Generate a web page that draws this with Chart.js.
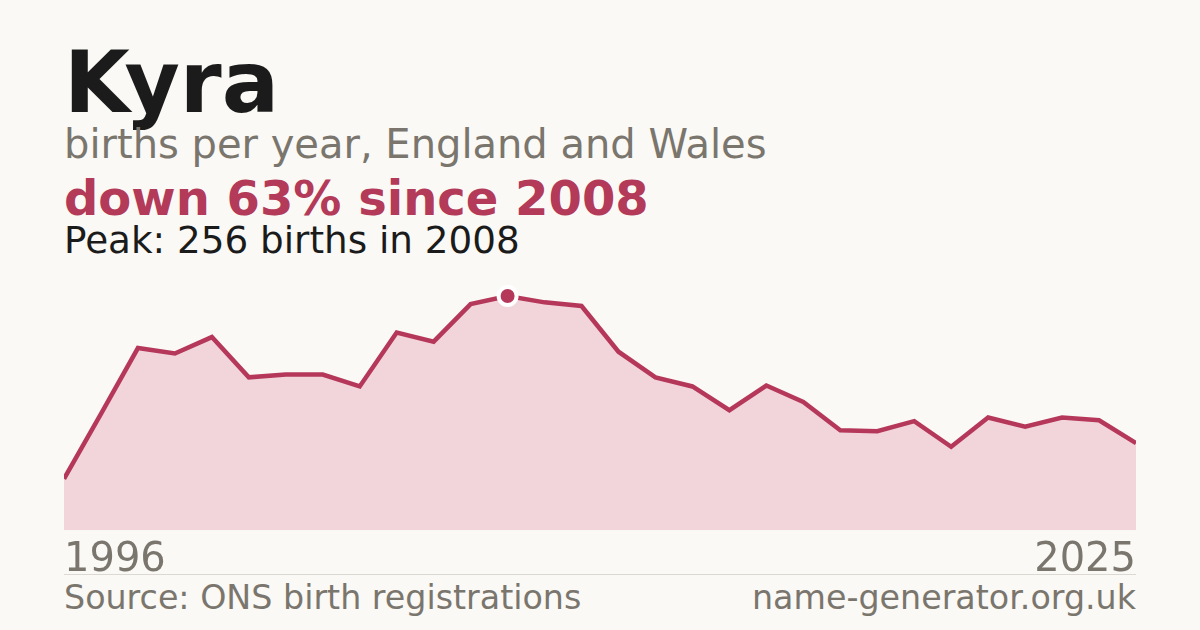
<!DOCTYPE html>
<html>
<head>
<meta charset="utf-8">
<script src="https://cdn.jsdelivr.net/npm/chart.js@4"></script>
<style>
  html, body { margin: 0; padding: 0; }
  body {
    width: 1200px; height: 630px; overflow: hidden;
    background: #faf9f5; position: relative;
    font-family: "DejaVu Sans", sans-serif;
  }
  .t { position: absolute; left: 64px; line-height: 1; white-space: nowrap; }
  .name { top: 40px; font-size: 85px; font-weight: bold; color: #1b1b1b; }
  .sub { top: 124px; font-size: 40px; color: #7a766e; }
  .change { top: 174px; font-size: 48px; font-weight: bold; color: #b33a58; }
  .peak { top: 222px; font-size: 37.3px; color: #1b1b1b; }
  .rule { position: absolute; left: 64px; width: 1072px; top: 574px; height: 1px; background: #dcd9d2; }
  .foot { top: 581px; font-size: 33.3px; color: #7a766e; }
  .foot.right { left: auto; right: 64px; }
  .wrap { position: absolute; left: 64px; top: 274px; width: 1072px; height: 302px; }
</style>
</head>
<body>
<div class="t name">Kyra</div>
<div class="t sub">births per year, England and Wales</div>
<div class="t change">down 63% since 2008</div>
<div class="t peak">Peak: 256 births in 2008</div>
<div class="wrap"><canvas id="chart"></canvas></div>
<div class="rule"></div>
<div class="t foot">Source: ONS birth registrations</div>
<div class="t foot right">name-generator.org.uk</div>

<script>
// births per year
const years = [
  1996, 1997, 1998, 1999, 2000, 2001, 2002, 2003, 2004, 2005,
  2006, 2007, 2008, 2009, 2010, 2011, 2012, 2013, 2014, 2015,
  2016, 2017, 2018, 2019, 2020, 2021, 2022, 2023, 2024, 2025,
];
const births = [
  56, 127, 199, 193, 211, 167, 170, 170, 157, 216,
  206, 247, 256, 249, 245, 195, 167, 157, 131, 158,
  140, 109, 108, 119, 91, 123, 113, 123, 120, 95,
];

const lineColor = "#b5385a";
const peakIdx = births.indexOf(Math.max(...births));

const config = {
  type: "line",
  data: {
    labels: years,
    datasets: [
      {
        data: births,
        borderColor: lineColor,
        borderWidth: 4.5,
        backgroundColor: "#f1d5da",
        fill: "origin",
        tension: 0,
        pointRadius: births.map((v, i) => (i === peakIdx ? 9 : 0)),
        pointBackgroundColor: lineColor,
        pointBorderColor: "#ffffff",
        pointBorderWidth: 4,
      },
    ],
  },
  options: {
    responsive: true,
    maintainAspectRatio: false,
    animation: false,
    layout: { padding: 0, autoPadding: false },
    plugins: { legend: { display: false }, tooltip: { enabled: false } },
    scales: {
      x: {
        grid: { display: false, drawTicks: false },
        border: { display: false },
        afterFit: (scale) => { scale.height = 46; },
        ticks: {
          autoSkip: false,
          maxRotation: 0,
          align: "inner",
          padding: -2,
          color: "#7a766e",
          font: { family: "DejaVu Sans", size: 40, lineHeight: 1.65 },
          callback: function (val, i) {
            return i === 0 || i === years.length - 1 ? years[i] : "";
          },
        },
      },
      y: { display: false, min: 0, max: 280 },
    },
  },
};

// render
const myChart = new Chart(document.getElementById("chart"), config);
</script>
</body>
</html>
